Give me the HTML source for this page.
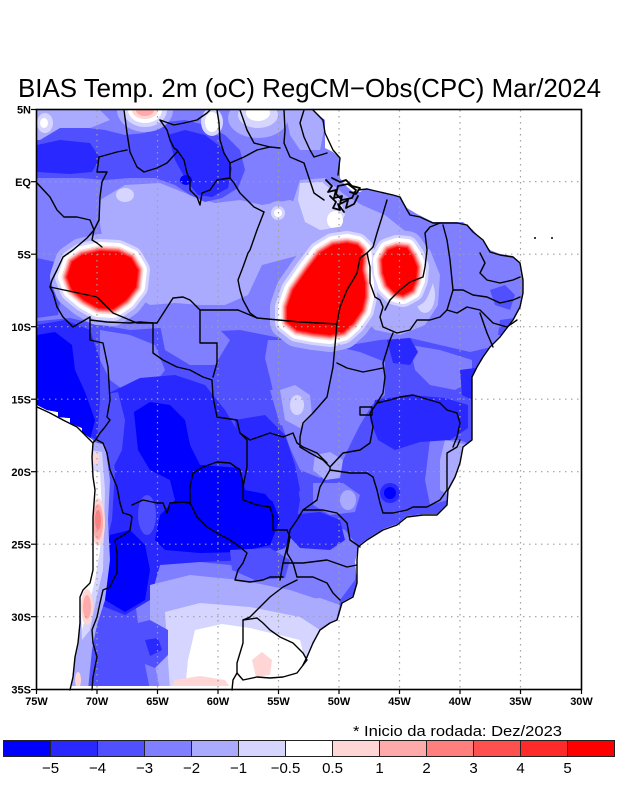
<!DOCTYPE html>
<html><head><meta charset="utf-8"><style>
html,body{margin:0;padding:0;background:#fff;}
svg{display:block;}
</style></head><body>
<svg width="618" height="800" viewBox="0 0 618 800" xmlns="http://www.w3.org/2000/svg">
<defs>
<clipPath id="land"><path d="M37,110 L313,110 L318,115 L325,120 L325,148 L333,152 L340,158 L340,178 L345,185 L352,191 L360,192 L367,188 L383,193 L400,197 L407,208 L417,214 L433,222 L463,222 L473,230 L482,240 L490,250 L500,254 L513,256 L520,262 L523,280 L523,293 L520,307 L513,320 L500,336 L490,346 L483,356 L477,366 L472,376 L472,440 L463,447 L460,462 L455,476 L448,489 L447,504 L437,514 L423,514 L407,516 L397,524 L383,529 L367,539 L358,546 L355,562 L357,582 L353,596 L342,602 L337,619 L330,622 L320,629 L313,642 L307,656 L303,665 L297,673 L283,677 L270,678 L257,677 L243,680 L237,686 L72,686 L73,677 L75,657 L78,643 L80,623 L80,597 L83,590 L90,583 L93,570 L93,547 L93,517 L95,490 L93,477 L92,457 L93,447 L93,440 L82,432 L82,428 L70,423 L70,418 L58,417 L58,412 L47,410 L37,405 Z"/></clipPath>
<path id="b1" d="M72,262 L82,255 L100,251 L118,252 L131,258 L138,270 L136,287 L126,300 L113,309 L98,308 L84,300 L72,290 L67,277 Z"/>
<path id="b2" d="M287,307 L293,290 L307,270 L320,253 L333,245 L347,243 L357,245 L362,250 L363,258 L362,270 L365,283 L365,297 L362,310 L353,323 L343,332 L330,335 L313,333 L297,330 L287,322 Z"/>
<path id="b3" d="M382,260 L388,250 L397,247 L407,248 L413,257 L417,267 L416,280 L412,290 L403,295 L395,293 L387,285 L383,273 Z"/>
</defs>

<g clip-path="url(#land)" stroke-linejoin="round">
<rect x="30" y="105" width="560" height="590" fill="#7F7FFF"/>
<!-- north light -->
<polygon fill="#AAAAFF" points="100,200 125,185 160,183 190,195 215,203 240,200 262,205 290,200 315,210 320,240 300,255 262,265 255,280 248,295 225,305 200,305 175,303 150,305 138,298 128,282 115,262 105,250 100,225"/>
<ellipse cx="125" cy="195" rx="9" ry="7" fill="#D5D5FF"/>
<circle cx="278" cy="213" r="12" fill="#AAAAFF"/><circle cx="278" cy="213" r="7" fill="#D5D5FF"/><circle cx="278" cy="213" r="4" fill="#fff"/>
<polygon fill="#AAAAFF" points="300,180 325,178 345,195 362,205 385,215 410,235 430,250 440,275 438,305 425,325 400,335 375,330 345,300 320,250 300,232 292,205"/>
<polygon fill="#D5D5FF" points="300,183 322,182 340,197 345,215 338,228 320,230 305,222 298,200"/>
<ellipse cx="335" cy="220" rx="8" ry="9" fill="#fff"/>
<ellipse cx="425" cy="295" rx="10" ry="18" fill="#D5D5FF"/>
<!-- north dark band -->
<polygon fill="#5050FF" points="37,132 55,128 80,127 105,130 125,135 145,133 165,122 185,120 205,125 225,135 240,150 245,170 238,188 222,198 205,202 190,195 175,185 155,178 130,178 105,180 80,178 55,178 37,178"/>
<polygon fill="#2828FF" points="37,145 60,140 90,143 100,158 92,172 70,174 37,172"/>
<polygon fill="#2828FF" points="168,135 185,130 205,135 222,148 232,168 228,188 212,197 198,195 186,180 175,160"/>
<ellipse cx="186" cy="180" rx="6" ry="5" fill="#0000FF"/>
<polygon fill="#AAAAFF" points="37,110 100,110 110,120 90,128 60,128 40,140 37,140"/>
<ellipse cx="45" cy="123" rx="8" ry="10" fill="#D5D5FF"/><ellipse cx="44" cy="123" rx="4" ry="5" fill="#fff"/>
<ellipse cx="145" cy="110" rx="28" ry="22" fill="#AAAAFF"/><ellipse cx="145" cy="110" rx="22" ry="17" fill="#D5D5FF"/><ellipse cx="145" cy="110" rx="17" ry="13" fill="#fff"/><ellipse cx="145" cy="110" rx="13" ry="9" fill="#FFD5D5"/><ellipse cx="145" cy="110" rx="9" ry="6" fill="#FFAAAA"/>
<ellipse cx="258" cy="118" rx="30" ry="20" fill="#AAAAFF"/><ellipse cx="258" cy="115" rx="20" ry="13" fill="#D5D5FF"/><ellipse cx="258" cy="113" rx="12" ry="8" fill="#fff"/>
<ellipse cx="212" cy="122" rx="11" ry="14" fill="#D5D5FF"/><ellipse cx="212" cy="122" rx="7" ry="10" fill="#fff"/>
<polygon fill="#AAAAFF" points="285,110 313,110 325,125 320,150 300,150 290,135"/>
<polygon fill="#5050FF" points="37,258 55,262 62,290 58,315 37,318"/>
<!-- NE patches -->
<polygon fill="#5050FF" points="490,290 505,285 515,295 510,310 495,305"/>
<polygon fill="#5050FF" points="500,320 515,318 510,335 498,335"/>
<!-- south base -->
<polygon fill="#5050FF" points="30,322 70,318 100,325 130,330 160,328 200,332 240,330 280,338 320,342 350,345 380,340 410,338 440,345 470,352 500,345 530,340 530,700 30,700"/>
<polygon fill="#7F7FFF" points="268,340 300,340 330,345 360,352 385,362 385,395 372,405 360,425 350,445 340,467 320,478 300,470 290,448 282,425 275,400 270,378 265,358"/>
<polygon fill="#7F7FFF" points="160,325 215,325 230,340 215,365 190,365 165,350"/>
<polygon fill="#7F7FFF" points="100,330 130,335 155,345 165,370 150,390 130,395 110,380 100,360"/>
<polygon fill="#7F7FFF" points="410,345 440,350 472,360 472,380 455,390 430,385 415,370"/>
<polygon fill="#7F7FFF" points="280,525 320,520 345,530 358,546 355,580 340,600 310,600 285,590 275,560"/>
<polygon fill="#7F7FFF" points="313,483 343,483 360,495 355,512 330,515 313,505"/>
<polygon fill="#7F7FFF" points="140,565 180,560 230,565 270,575 300,575 320,580 340,600 335,620 300,660 240,690 150,690 140,640 135,600"/>
<polygon fill="#7F7FFF" points="430,440 460,440 472,445 460,470 448,500 430,505 425,480"/>
<polygon fill="#AAAAFF" points="445,440 468,445 458,475 448,495 440,490 440,460"/>
<polygon fill="#7F7FFF" points="270,390 300,388 318,395 318,418 300,430 280,425"/>
<polygon fill="#AAAAFF" points="280,390 295,385 310,395 312,415 300,428 285,420"/>
<ellipse cx="297" cy="405" rx="7" ry="10" fill="#D5D5FF"/>
<polygon fill="#AAAAFF" points="315,455 330,452 343,460 340,478 325,480 313,470"/>
<ellipse cx="348" cy="500" rx="8" ry="10" fill="#AAAAFF"/>
<polygon fill="#AAAAFF" points="285,600 320,598 340,605 335,625 315,640 300,650 285,640 280,620"/>
<!-- dark south -->
<polygon fill="#2828FF" points="37,325 65,320 90,330 100,360 100,400 97,440 37,410"/>
<polygon fill="#0000FF" points="37,335 55,332 72,345 75,370 85,392 95,420 90,440 70,425 37,408"/>
<polygon fill="#2828FF" points="105,395 140,378 175,375 205,385 225,410 240,435 270,445 295,470 300,500 295,530 285,548 250,560 200,562 160,565 150,600 125,615 100,605 102,560 112,520 115,470 108,430"/>
<polygon fill="#5050FF" points="100,395 118,392 125,420 122,450 112,470 100,460"/>
<polygon fill="#0000FF" points="134,412 150,402 170,405 185,420 190,445 200,465 240,468 245,490 270,495 280,520 270,545 240,552 200,553 165,550 155,540 160,515 175,500 170,480 150,470 138,450"/>
<polygon fill="#0000FF" points="110,535 130,530 145,545 150,570 145,600 125,612 105,600 100,570"/>
<ellipse cx="147" cy="515" rx="9" ry="20" fill="#5050FF"/>
<polygon fill="#2828FF" points="235,420 265,415 285,435 295,465 300,490 290,510 270,500 250,475 238,450"/>
<polygon fill="#2828FF" points="290,515 320,512 340,520 345,540 330,550 300,548 288,535"/>
<polygon fill="#2828FF" points="375,400 410,395 445,398 468,405 468,428 450,440 420,442 395,450 378,440 370,420"/>
<circle cx="390" cy="493" r="10" fill="#2828FF"/><circle cx="390" cy="493" r="6" fill="#0000FF"/>
<polygon fill="#2828FF" points="387,340 410,338 418,352 410,365 393,363"/>
<polygon fill="#2828FF" points="460,370 475,368 472,400 462,395"/>
<polygon fill="#5050FF" points="230,550 270,548 290,560 285,578 255,580 232,570"/>
<!-- south Argentina light -->
<polygon fill="#AAAAFF" points="150,585 190,575 240,580 290,590 320,600 335,620 320,650 290,675 240,690 160,690 152,650 150,620"/>
<polygon fill="#D5D5FF" points="165,612 200,603 250,607 300,617 320,630 310,660 290,690 170,690 168,660"/>
<polygon fill="#fff" points="195,630 222,624 250,628 300,640 305,660 295,690 185,690 188,660"/>
<polygon fill="#FFD5D5" points="175,680 200,676 225,680 232,690 170,690"/>
<polygon fill="#FFD5D5" points="252,660 262,652 272,660 270,675 256,677"/>
<polygon fill="#5050FF" points="130,625 150,620 168,630 168,655 155,668 135,660"/>
<polygon fill="#2828FF" points="145,640 158,638 162,650 150,656"/>
<!-- Chile strip -->
<polygon fill="#AAAAFF" points="88,440 105,445 110,480 108,520 110,560 105,600 97,625 92,650 88,690 70,690 78,620 85,580 90,540 92,480"/>
<polygon fill="#D5D5FF" points="90,450 102,452 105,490 104,530 103,570 96,600 90,630 82,640 80,600 88,570 92,520"/>
<polygon fill="#fff" points="91,470 100,472 102,510 100,550 95,580 88,610 82,630 80,600 90,560 92,520"/>
<ellipse cx="98" cy="522" rx="7" ry="24" fill="#FFD5D5"/><ellipse cx="98" cy="522" rx="5" ry="18" fill="#FFAAAA"/><ellipse cx="98" cy="520" rx="3" ry="10" fill="#FF7F7F"/>
<ellipse cx="87" cy="607" rx="6" ry="18" fill="#FFD5D5"/><ellipse cx="87" cy="607" rx="4" ry="12" fill="#FFAAAA"/>
<ellipse cx="96" cy="458" rx="3" ry="6" fill="#FFD5D5"/>
<ellipse cx="78" cy="680" rx="3" ry="8" fill="#FFD5D5"/>
<!-- blobs -->
<use href="#b1" fill="#AAAAFF" stroke="#AAAAFF" stroke-width="34"/><use href="#b2" fill="#AAAAFF" stroke="#AAAAFF" stroke-width="34"/><use href="#b3" fill="#AAAAFF" stroke="#AAAAFF" stroke-width="34"/>
<use href="#b1" fill="#D5D5FF" stroke="#D5D5FF" stroke-width="24"/><use href="#b2" fill="#D5D5FF" stroke="#D5D5FF" stroke-width="24"/><use href="#b3" fill="#D5D5FF" stroke="#D5D5FF" stroke-width="24"/>
<use href="#b1" fill="#fff" stroke="#fff" stroke-width="18"/><use href="#b2" fill="#fff" stroke="#fff" stroke-width="18"/><use href="#b3" fill="#fff" stroke="#fff" stroke-width="18"/>
<use href="#b1" fill="#FFD5D5" stroke="#FFD5D5" stroke-width="11"/><use href="#b2" fill="#FFD5D5" stroke="#FFD5D5" stroke-width="11"/><use href="#b3" fill="#FFD5D5" stroke="#FFD5D5" stroke-width="11"/>
<use href="#b1" fill="#FFAAAA" stroke="#FFAAAA" stroke-width="8"/><use href="#b2" fill="#FFAAAA" stroke="#FFAAAA" stroke-width="8"/><use href="#b3" fill="#FFAAAA" stroke="#FFAAAA" stroke-width="8"/>
<use href="#b1" fill="#FF7F7F" stroke="#FF7F7F" stroke-width="6"/><use href="#b2" fill="#FF7F7F" stroke="#FF7F7F" stroke-width="6"/><use href="#b3" fill="#FF7F7F" stroke="#FF7F7F" stroke-width="6"/>
<use href="#b1" fill="#FF5050" stroke="#FF5050" stroke-width="4"/><use href="#b2" fill="#FF5050" stroke="#FF5050" stroke-width="4"/><use href="#b3" fill="#FF5050" stroke="#FF5050" stroke-width="4"/>
<use href="#b1" fill="#FF2A2A" stroke="#FF2A2A" stroke-width="2"/><use href="#b2" fill="#FF2A2A" stroke="#FF2A2A" stroke-width="2"/><use href="#b3" fill="#FF2A2A" stroke="#FF2A2A" stroke-width="2"/>
<use href="#b1" fill="#FF0000"/><use href="#b2" fill="#FF0000"/><use href="#b3" fill="#FF0000"/>
</g>

<!-- grid -->
<g stroke="#A0A0A0" stroke-width="1.2" stroke-dasharray="1.5,4.5" fill="none">
<line x1="97" y1="110" x2="97" y2="689"/><line x1="157.5" y1="110" x2="157.5" y2="689"/><line x1="218" y1="110" x2="218" y2="689"/><line x1="278.5" y1="110" x2="278.5" y2="689"/><line x1="339" y1="110" x2="339" y2="689"/><line x1="399.5" y1="110" x2="399.5" y2="689"/><line x1="460" y1="110" x2="460" y2="689"/><line x1="520.5" y1="110" x2="520.5" y2="689"/>
<line x1="37" y1="181.7" x2="581" y2="181.7"/><line x1="37" y1="254.2" x2="581" y2="254.2"/><line x1="37" y1="326.7" x2="581" y2="326.7"/><line x1="37" y1="399.2" x2="581" y2="399.2"/><line x1="37" y1="471.7" x2="581" y2="471.7"/><line x1="37" y1="544.2" x2="581" y2="544.2"/><line x1="37" y1="616.7" x2="581" y2="616.7"/>
</g>

<!-- borders -->
<g stroke="#000" stroke-width="1.4" fill="none" stroke-linejoin="round" stroke-linecap="round">
<polyline points="313,110 323,120 325,133 333,150 340,158 338,175"/>
<polyline points="358,190 367,189 380,192 393,195 400,197 407,210 410,215 420,217 433,223 443,223 457,223 467,225 473,232 483,240 490,252 500,255 513,257 520,263 523,280 523,293 520,307 513,320 500,337 490,347 483,357 477,367 472,377 472,440 463,447 460,463 455,477 448,490 447,505 437,515 423,515 407,517 397,525 383,530 367,540 358,547 357,560 357,583 353,597 342,603 337,620 330,623 320,630 313,643 307,657 303,665"/>
<g stroke-width="1.8">
<polyline points="326,180 332,186 328,192 336,190 334,198 342,196 340,204 348,200 346,208 354,204 358,196"/>
<polyline points="332,178 340,182 346,180 352,186 360,188 356,194 350,192"/>
<polyline points="330,196 336,202 333,208 340,210 338,204 344,212"/>
<polygon points="338,186 348,184 356,190 352,198 342,200 336,194"/>
</g>
<polyline points="70,690 73,677 75,657 78,643 80,623 80,597 83,590 90,583 93,570 93,547 93,517 95,490 93,477 92,457 93,443 83,433 77,427 63,420 50,413 37,407"/>
<polyline points="124,110 127,133 130,152 137,167 144,172 157,168 167,163 177,152"/>
<polyline points="127,150 117,152 99,157 97,172 107,172 102,182 100,197 99,220"/>
<polyline points="160,120 174,125 184,123 197,120 207,113 210,110"/>
<polyline points="160,120 167,130 170,140 174,148 177,150 184,160 187,173 190,180 190,190 197,197 200,205 202,193 210,190 217,180 230,178"/>
<polyline points="230,178 230,163 224,153 220,140 219,123 217,110"/>
<polyline points="230,163 244,157 257,150 270,147 280,148"/>
<polyline points="240,110 247,130 254,143 270,147"/>
<polyline points="230,178 234,183 240,193 254,207 264,212"/>
<polyline points="284,110 285,130 284,143 290,157 304,163 314,193 324,200"/>
<polyline points="304,110 300,123 304,137 310,150 314,157 327,153"/>
<polyline points="37,183 50,197 57,210 64,217 77,217 90,220 94,230 92,240 97,243 102,247"/>
<polyline points="99,220 94,230 87,238 73,250 63,257 57,270 52,280 50,287 53,293 57,307 63,317 73,327 90,317"/>
<polyline points="90,317 90,340 103,343 108,367 110,400 107,417 110,420 105,427 100,433 97,438 93,443"/>
<polyline points="50,287 97,297 113,313 137,323 157,323"/>
<polyline points="90,320 107,322 130,323 140,322 153,323 153,353 163,360 177,367 190,370 203,377 212,380 213,397 217,417 237,420 240,433 247,440 247,467 243,487"/>
<polyline points="157,323 173,298 183,297 190,300 200,310 238,310"/>
<polyline points="200,310 200,343 217,343 217,363 213,377"/>
<polyline points="264,212 257,230 250,250 248,253 243,267 238,280 240,290 243,300 250,313 257,318"/>
<polyline points="238,310 257,318 300,322 337,324"/>
<polyline points="387,200 382,217 377,233 373,247 367,253 360,258 357,273 353,280 347,290 340,307 337,323 333,367 327,397 313,413 303,423 300,437 300,447 310,453 323,460 330,467 330,470"/>
<polyline points="367,253 370,267 370,283 375,297 380,300 383,307 380,317 383,327 390,330"/>
<polyline points="440,223 430,227 425,233 427,250 425,267 423,277 410,282 400,290 390,300 385,310"/>
<polyline points="443,225 447,240 450,260 452,280 453,290 463,290 473,295 487,297 500,303 513,300 520,297"/>
<polyline points="480,253 485,263 480,273 487,280 500,283 513,280 520,277"/>
<polyline points="453,290 450,300 447,310 457,313 467,307 480,310 487,317 493,323 507,327 517,320"/>
<polyline points="390,330 397,333 410,330 417,320 430,320 440,317 447,310"/>
<polyline points="393,333 390,340 387,350 383,363 385,377 383,393 377,403"/>
<polyline points="480,313 487,333 493,347"/>
<polyline points="337,363 347,368 363,372 383,368"/>
<polyline points="330,467 343,453 360,450 370,443 373,427 370,413 377,403 390,400 400,397 413,395 423,398 440,403 447,410 457,413 460,423 457,437 453,447"/>
<polyline points="460,440 457,447 447,453 447,473 447,490 440,500 427,507 413,507 407,510 393,513 383,513 380,503 377,490 373,477 367,473 350,473 330,470"/>
<rect x="360" y="407" width="12" height="8"/>
<polyline points="330,470 320,487 317,500 303,510 297,520 290,530 287,547 283,563 280,580"/>
<polyline points="303,510 323,510 337,513 347,523 350,540 360,547"/>
<polyline points="283,563 303,563 327,560 347,567 357,565"/>
<polyline points="297,577 313,577 327,583 333,593 340,600"/>
<polyline points="240,433 250,440 270,433 283,437 293,433 297,443 303,447 317,453 327,463"/>
<polyline points="97,440 103,443 107,453 110,470 117,487 120,503 123,513 130,515 132,517 130,530 127,533 120,537 115,540 117,553 117,573 113,580 110,587 103,590 100,603 97,617 92,630 93,643 97,657 93,677 92,690"/>
<polyline points="132,505 143,500 157,503 163,503 167,513 170,503 183,502 190,503"/>
<polyline points="190,503 190,487 193,473 203,467 217,462 230,463 240,470 243,483 243,500 257,505 270,507 273,517 273,530 287,530"/>
<polyline points="190,503 197,517 207,527 217,533 230,540 240,547 247,553 243,563 238,570 235,580 250,582 263,580 270,577 283,577"/>
<polyline points="287,530 290,537 287,553 293,563 297,577"/>
<polyline points="297,580 283,587 270,597 260,607 250,617 243,620"/>
<polygon points="243,620 257,618 263,623 270,630 280,637 293,643 303,653 307,660 297,673 283,677 270,678 257,677 243,680 237,673 237,663 240,653 243,643 243,630"/>
<polyline points="237,673 233,680 232,690"/>
</g>
<circle cx="535" cy="238" r="1" fill="#000"/><circle cx="552" cy="238" r="1" fill="#000"/>

<!-- frame + ticks -->
<rect x="36.5" y="109.5" width="545" height="580" fill="none" stroke="#000" stroke-width="1.6"/>
<g stroke="#000" stroke-width="1.2">
<line x1="31" y1="109.5" x2="36.5" y2="109.5"/><line x1="31" y1="181.7" x2="36.5" y2="181.7"/><line x1="31" y1="254.2" x2="36.5" y2="254.2"/><line x1="31" y1="326.7" x2="36.5" y2="326.7"/><line x1="31" y1="399.2" x2="36.5" y2="399.2"/><line x1="31" y1="471.7" x2="36.5" y2="471.7"/><line x1="31" y1="544.2" x2="36.5" y2="544.2"/><line x1="31" y1="616.7" x2="36.5" y2="616.7"/><line x1="31" y1="689.5" x2="36.5" y2="689.5"/>
<line x1="36.5" y1="689.5" x2="36.5" y2="694"/><line x1="97" y1="689.5" x2="97" y2="694"/><line x1="157.5" y1="689.5" x2="157.5" y2="694"/><line x1="218" y1="689.5" x2="218" y2="694"/><line x1="278.5" y1="689.5" x2="278.5" y2="694"/><line x1="339" y1="689.5" x2="339" y2="694"/><line x1="399.5" y1="689.5" x2="399.5" y2="694"/><line x1="460" y1="689.5" x2="460" y2="694"/><line x1="520.5" y1="689.5" x2="520.5" y2="694"/><line x1="581.5" y1="689.5" x2="581.5" y2="694"/>
</g>

<!-- axis labels -->
<g font-family="Liberation Sans, sans-serif" font-weight="bold" font-size="11" fill="#000" text-anchor="end">
<text x="31" y="113.5">5N</text><text x="31" y="186">EQ</text><text x="31" y="258.5">5S</text><text x="31" y="331">10S</text><text x="31" y="403.5">15S</text><text x="31" y="476">20S</text><text x="31" y="548.5">25S</text><text x="31" y="621">30S</text><text x="31" y="693.5">35S</text>
</g>
<g font-family="Liberation Sans, sans-serif" font-weight="bold" font-size="11" fill="#000" text-anchor="middle">
<text x="36.5" y="705">75W</text><text x="97" y="705">70W</text><text x="157.5" y="705">65W</text><text x="218" y="705">60W</text><text x="278.5" y="705">55W</text><text x="339" y="705">50W</text><text x="399.5" y="705">45W</text><text x="460" y="705">40W</text><text x="520.5" y="705">35W</text><text x="581.5" y="705">30W</text>
</g>

<!-- title -->
<text x="18" y="97" font-family="Liberation Sans, sans-serif" font-size="26" fill="#000" textLength="583" lengthAdjust="spacingAndGlyphs">BIAS Temp. 2m (oC) RegCM−Obs(CPC) Mar/2024</text>
<text x="353" y="736" font-family="Liberation Sans, sans-serif" font-size="15" fill="#000" textLength="209" lengthAdjust="spacingAndGlyphs">* Inicio da rodada: Dez/2023</text>

<!-- colorbar -->
<g stroke="#222" stroke-width="1">
<rect x="3.5" y="740.5" width="47" height="16" fill="#0000FF"/>
<rect x="50.5" y="740.5" width="47" height="16" fill="#2828FF"/>
<rect x="97.5" y="740.5" width="47" height="16" fill="#5050FF"/>
<rect x="144.5" y="740.5" width="47" height="16" fill="#7F7FFF"/>
<rect x="191.5" y="740.5" width="47" height="16" fill="#AAAAFF"/>
<rect x="238.5" y="740.5" width="47" height="16" fill="#D5D5FF"/>
<rect x="285.5" y="740.5" width="47" height="16" fill="#FFFFFF"/>
<rect x="332.5" y="740.5" width="47" height="16" fill="#FFD5D5"/>
<rect x="379.5" y="740.5" width="47" height="16" fill="#FFAAAA"/>
<rect x="426.5" y="740.5" width="47" height="16" fill="#FF7F7F"/>
<rect x="473.5" y="740.5" width="47" height="16" fill="#FF5050"/>
<rect x="520.5" y="740.5" width="47" height="16" fill="#FF2A2A"/>
<rect x="567.5" y="740.5" width="47" height="16" fill="#FF0000"/>
</g>
<g font-family="Liberation Sans, sans-serif" font-size="15" fill="#000" text-anchor="middle">
<text x="50.5" y="773">−5</text><text x="97.5" y="773">−4</text><text x="144.5" y="773">−3</text><text x="191.5" y="773">−2</text><text x="238.5" y="773">−1</text><text x="285.5" y="773">−0.5</text><text x="332.5" y="773">0.5</text><text x="379.5" y="773">1</text><text x="426.5" y="773">2</text><text x="473.5" y="773">3</text><text x="520.5" y="773">4</text><text x="567.5" y="773">5</text>
</g>
</svg>
</body></html>
